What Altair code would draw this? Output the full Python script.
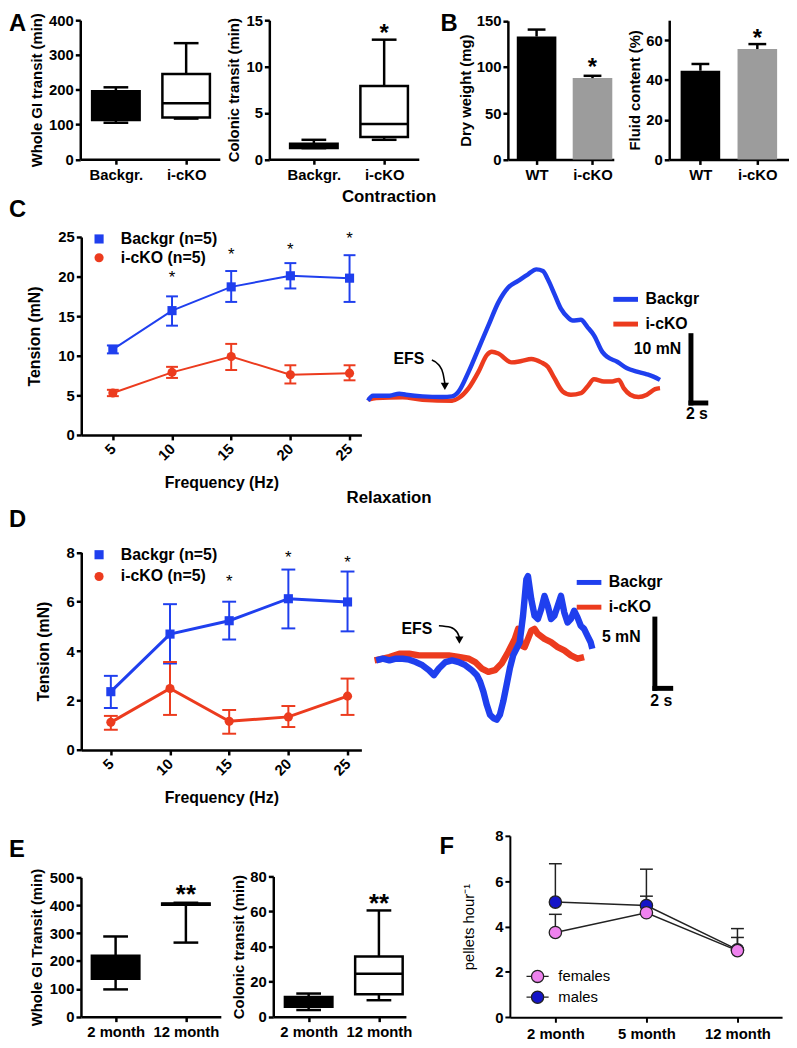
import altair as alt
import pandas as pd

W, H = 789, 1040


def X(x):
    return round(x - 8, 2)


def Y(y):
    return round(y - 8, 2)


FONT = "Liberation Sans"
BLUE = "#1f3fee"
RED = "#ec3b1e"
GRAY = "#9c9c9c"

# ======================= DATA =======================
# Panel A : box plots (min, q1, median, q3, max)
a_groups = ["Backgr.", "i-cKO"]
a_gi_min = [105, 117]
a_gi_q1 = [113, 120]
a_gi_med = [150, 161]
a_gi_q3 = [196, 245]
a_gi_max = [207, 334]
a_gi_fill = ["black", "white"]

a_col_min = [1.2, 2.1]
a_col_q1 = [1.22, 2.4]
a_col_med = [1.45, 3.8]
a_col_q3 = [1.67, 7.9]
a_col_max = [2.1, 12.9]
a_col_fill = ["black", "white"]
a_col_star = 13.6

# Panel B : bars (mean, top of error bar)
b_groups = ["WT", "i-cKO"]
b_dry_mean = [133.0, 88.0]
b_dry_top = [140.5, 90.5]
b_dry_star = 100
b_fluid_mean = [44.6, 55.5]
b_fluid_top = [48.0, 58.0]
b_fluid_star = 61
b_colors = ["black", GRAY]

# Panel C : contraction
freq = [5, 10, 15, 20, 25]
c_bg = [10.8, 15.7, 18.7, 20.1, 19.8]
c_bg_lo = [10.3, 13.8, 16.8, 18.5, 16.8]
c_bg_hi = [11.3, 17.5, 20.7, 21.7, 22.7]
c_ko = [5.3, 7.9, 9.9, 7.6, 7.8]
c_ko_lo = [4.9, 7.2, 8.2, 6.5, 6.9]
c_ko_hi = [5.7, 8.6, 11.5, 8.8, 8.8]
c_star_x = [10, 15, 20, 25]
c_star_y = [20.0, 22.9, 23.5, 24.9]

# Contraction traces (time s, tension mN)
ct_bg_t = [0, 0.67, 2.89, 4.22, 5.11, 7.33, 10.0, 11.33, 12.22, 13.56, 14.89, 16.22, 17.56,
           18.89, 20.22, 21.56, 22.67, 23.56, 24.22, 25.11, 26.0, 26.89, 27.56, 28.67, 29.56,
           30.44, 31.56, 32.22, 33.56, 34.89, 36.22, 37.56, 38.44, 39.33]
ct_bg_f = [0.34, 1.08, 1.08, 1.37, 1.23, 0.98, 0.88, 0.98, 1.72, 4.66, 8.09, 11.52, 14.95,
           17.16, 18.14, 19.12, 19.85, 19.61, 18.38, 16.18, 13.97, 12.75, 12.25, 12.35, 11.27,
           10.05, 7.6, 6.86, 6.13, 5.15, 4.66, 4.26, 3.92, 3.43]
ct_ko_t = [0, 1.11, 4.67, 7.33, 11.33, 12.22, 13.56, 14.89, 16.0, 16.67, 17.56, 19.33, 20.67,
           22.0, 23.33, 24.22, 25.11, 26.22, 27.33, 28.67, 29.56, 30.44, 31.78, 32.89, 33.78,
           34.44, 35.33, 36.44, 37.56, 38.67, 39.33]
ct_ko_f = [0.49, 0.74, 0.83, 0.49, 0.34, 0.74, 2.21, 4.66, 7.11, 7.6, 7.35, 6.03, 6.23,
           6.52, 6.03, 5.39, 3.68, 1.72, 1.23, 1.47, 2.45, 3.53, 3.19, 3.19, 3.43,
           2.21, 1.23, 0.88, 1.23, 2.06, 2.21]
ct_arrow_t = [8.6, 9.55, 10.1, 10.35]
ct_arrow_f = [6.4, 5.65, 4.4, 2.9]

# Panel D : relaxation
d_bg = [2.36, 4.69, 5.23, 6.12, 5.99]
d_bg_lo = [1.7, 3.5, 4.47, 4.92, 4.8]
d_bg_hi = [3.0, 5.9, 6.0, 7.3, 7.22]
d_ko = [1.12, 2.49, 1.16, 1.34, 2.18]
d_ko_lo = [0.82, 1.42, 0.66, 0.93, 1.42]
d_ko_hi = [1.38, 3.56, 1.62, 1.78, 2.89]
d_star_x = [15, 20, 25]
d_star_y = [6.82, 7.82, 7.62]

dt_bg_t = [0.21, 1.04, 1.875, 2.71, 3.54, 4.375, 5.21, 6.04, 6.875, 7.5, 8.125, 8.96, 9.79,
           10.625, 11.46, 12.29, 12.92, 13.33, 13.75, 14.17, 14.58, 15.0, 15.42, 15.83, 16.25,
           16.67, 17.08, 17.5, 17.92, 18.33, 18.75, 19.17, 19.375, 19.79, 20.21, 20.625, 21.04,
           21.46, 21.875, 22.29, 22.71, 23.125, 23.54, 23.96, 24.375, 24.79, 25.21, 25.625,
           26.04, 26.46, 26.875, 27.29, 27.5]
dt_bg_f = [2.02, 2.14, 2.02, 2.14, 2.14, 2.07, 1.90, 1.67, 1.31, 0.95, 1.43, 1.90, 2.02,
           1.90, 1.67, 1.31, 0.95, 0.48, -0.24, -1.19, -1.90, -2.14, -2.26, -1.90, -0.95,
           0.24, 1.43, 2.38, 2.86, 3.33, 5.24, 7.86, 8.10, 6.43, 5.24, 5.0, 5.71,
           6.67, 5.95, 5.0, 5.24, 5.95, 6.67, 5.48, 4.76, 5.0, 5.60, 5.12,
           4.52, 4.29, 3.81, 3.33, 2.86]
dt_ko_t = [0, 1.04, 1.875, 3.125, 4.375, 5.625, 6.875, 8.125, 9.375, 10.625, 11.875, 12.71,
           13.54, 14.375, 15.21, 16.04, 16.875, 17.71, 18.125, 18.54, 18.96, 19.375, 19.79,
           20.21, 20.625, 21.46, 22.29, 23.125, 23.96, 24.79, 25.625, 26.46]
dt_ko_f = [2.02, 2.14, 2.26, 2.5, 2.5, 2.38, 2.38, 2.38, 2.38, 2.26, 2.14, 1.90,
           1.43, 1.19, 1.31, 1.79, 2.62, 3.57, 4.29, 3.10, 2.98, 3.57, 4.17,
           4.29, 3.93, 3.57, 3.33, 2.98, 2.74, 2.38, 2.14, 2.26]
dt_arrow_t = [8.125, 9.59, 10.43, 10.71]
dt_arrow_f = [4.52, 4.41, 4.05, 3.69]

# Panel E : box plots
e_groups = ["2 month", "12 month"]
e_gi_min = [98, 266]
e_gi_q1 = [136, 402]
e_gi_med = [180, 405]
e_gi_q3 = [219, 406]
e_gi_max = [288, 409]
e_gi_star = 440
e_col_min = [3.8, 9.4]
e_col_q1 = [5.65, 12.8]
e_col_med = [8.1, 24.5]
e_col_q3 = [11.3, 34.3]
e_col_max = [13.2, 60.6]
e_col_star = 65
e_fill = ["black", "white"]

# Panel F : pellets
f_ages = ["2 month", "5 month", "12 month"]
f_fem = [3.74, 4.61, 2.94]
f_fem_hi = [4.54, 5.34, 3.52]
f_male = [5.08, 4.93, 2.98]
f_male_hi = [6.77, 6.53, 3.91]

# ======================= HELPERS =======================


def txt(text, x, y, size, weight="bold", align="center", baseline="middle"):
    return alt.Chart(pd.DataFrame({"t": [text]})).mark_text(
        font=FONT, fontSize=size, fontWeight=weight, align=align, baseline=baseline, color="black"
    ).encode(x=alt.value(X(x)), y=alt.value(Y(y)), text="t:N")


def lin(domain, r0, r1):
    return alt.Scale(domain=domain, range=[r0, r1], nice=False, zero=False)


def pnt(domain, r0, r1, pad, align):
    return alt.Scale(type="point", domain=domain, range=[r0, r1], padding=pad, align=align)


def left_axis(ax, values, title, pad=4, **kw):
    return alt.Axis(orient="left", offset=-X(ax), values=values, title=title,
                    titlePadding=pad, **kw)


def bottom_axis(ay, **kw):
    return alt.Axis(orient="bottom", offset=round(Y(ay) - H, 2), **kw)


def box_panel(groups, mn, q1, md, q3, mx, fills, xr, pad, align, ax, ay, ytop, ydom,
              yvals, ytitle, tpad, bw=48, cw=25):
    df = pd.DataFrame({"g": groups, "mn": mn, "q1": q1, "md": md, "q3": q3, "mx": mx,
                       "fill": fills})
    xs = pnt(groups, X(xr[0]), X(xr[1]), pad, align)
    ys = lin(ydom, Y(ay), Y(ytop))
    base = alt.Chart(df)
    xn = alt.X("g:N", scale=xs, axis=None)
    return [
        base.mark_rule(color="black", strokeWidth=2.5).encode(
            x=xn, y=alt.Y("mn:Q", scale=ys, axis=None), y2="mx:Q"),
        base.mark_tick(color="black", size=cw, thickness=2.5, opacity=1).encode(
            x=xn, y=alt.Y("mx:Q", scale=ys, axis=None)),
        base.mark_tick(color="black", size=cw, thickness=2.5, opacity=1).encode(
            x=xn, y=alt.Y("mn:Q", scale=ys, axis=None)),
        base.mark_bar(size=bw, stroke="black", strokeWidth=2.5).encode(
            x=alt.X("g:N", scale=xs,
                    axis=bottom_axis(ay, title=None, labelAngle=0, labelPadding=3)),
            y=alt.Y("q1:Q", scale=ys, axis=left_axis(ax, yvals, ytitle, tpad)),
            y2="q3:Q",
            fill=alt.Fill("fill:N", scale=None)),
        base.mark_tick(color="black", size=bw, thickness=2.5, opacity=1).encode(
            x=xn, y=alt.Y("md:Q", scale=ys, axis=None)),
    ], xs, ys


def star(xs, ys, xval, yval, xtype, size, text="*"):
    df = pd.DataFrame({"x": xval, "y": yval})
    return alt.Chart(df).mark_text(text=text, font=FONT, fontSize=size, fontWeight="bold",
                                   baseline="middle", dy=1, color="black").encode(
        x=alt.X("x:" + xtype, scale=xs, axis=None), y=alt.Y("y:Q", scale=ys, axis=None))


def bar_panel(groups, mean, top, colors, xr, pad, align, ax, ay, ytop, ydom, yvals, ytitle,
              bw=40, cw=18):
    df = pd.DataFrame({"g": groups, "m": mean, "e": top, "c": colors})
    xs = pnt(groups, X(xr[0]), X(xr[1]), pad, align)
    ys = lin(ydom, Y(ay), Y(ytop))
    base = alt.Chart(df)
    xn = alt.X("g:N", scale=xs, axis=None)
    return [
        base.mark_bar(size=bw).encode(
            x=alt.X("g:N", scale=xs,
                    axis=bottom_axis(ay, title=None, labelAngle=0, labelPadding=3)),
            y=alt.Y("m:Q", scale=ys, axis=left_axis(ax, yvals, ytitle, 3)),
            y2=alt.datum(0),
            fill=alt.Fill("c:N", scale=None)),
        base.mark_rule(color="black", strokeWidth=2.5).encode(
            x=xn, y=alt.Y("m:Q", scale=ys, axis=None), y2="e:Q"),
        base.mark_tick(color="black", size=cw, thickness=2.5, opacity=1).encode(
            x=xn, y=alt.Y("e:Q", scale=ys, axis=None)),
    ], xs, ys


def line_panel(bg, bglo, bghi, ko, kolo, kohi, sx, sy, xdom, xr, ydom, ytop, ax, ay, yvals,
               lw, legx, legy, rowpad, capw):
    lab_bg, lab_ko = "Backgr (n=5)", "i-cKO (n=5)"
    n = len(freq)
    df = pd.DataFrame({"f": freq + freq, "v": bg + ko, "lo": bglo + kolo, "hi": bghi + kohi,
                       "grp": [lab_bg] * n + [lab_ko] * n})
    xs = lin(xdom, X(xr[0]), X(xr[1]))
    ys = lin(ydom, Y(ay), Y(ytop))
    cs = alt.Scale(domain=[lab_bg, lab_ko], range=[BLUE, RED])
    ss = alt.Scale(domain=[lab_bg, lab_ko], range=["square", "circle"])
    base = alt.Chart(df)
    xn = alt.X("f:Q", scale=xs, axis=None)
    col = alt.Color("grp:N", scale=cs, legend=None)
    leg = alt.Legend(orient="none", legendX=X(legx), legendY=Y(legy), title=None,
                     labelFont=FONT, labelFontSize=16, labelFontWeight="bold",
                     labelColor="black", symbolSize=85, labelOffset=14, rowPadding=rowpad,
                     padding=0, symbolStrokeWidth=0)
    layers = [
        base.mark_line(strokeWidth=lw).encode(
            x=alt.X("f:Q", scale=xs,
                    axis=bottom_axis(ay, values=freq, title="Frequency (Hz)", labelAngle=315,
                                     labelAlign="right", labelBaseline="middle",
                                     labelPadding=6, titlePadding=12, titleFontSize=16)),
            y=alt.Y("v:Q", scale=ys,
                    axis=left_axis(ax, yvals, "Tension (mN)", 15, titleFontSize=16)),
            color=col),
        base.mark_rule(strokeWidth=2).encode(
            x=xn, y=alt.Y("lo:Q", scale=ys, axis=None), y2="hi:Q", color=col),
        base.mark_tick(orient="horizontal", size=capw, thickness=2, opacity=1).encode(
            x=xn, y=alt.Y("lo:Q", scale=ys, axis=None), color=col),
        base.mark_tick(orient="horizontal", size=capw, thickness=2, opacity=1).encode(
            x=xn, y=alt.Y("hi:Q", scale=ys, axis=None), color=col),
        base.mark_point(filled=True, size=85, opacity=1).encode(
            x=xn, y=alt.Y("v:Q", scale=ys, axis=None),
            color=alt.Color("grp:N", scale=cs, legend=leg),
            shape=alt.Shape("grp:N", scale=ss, legend=leg)),
    ]
    sdf = pd.DataFrame({"x": sx, "y": sy})
    layers.append(alt.Chart(sdf).mark_text(text="*", font=FONT, fontSize=17, color="black",
                                           baseline="middle", dy=1).encode(
        x=alt.X("x:Q", scale=xs, axis=None), y=alt.Y("y:Q", scale=ys, axis=None)))
    return layers


def trace_panel(bg_t, bg_f, ko_t, ko_f, tdom, x0, px_s, fdom, y0, px_f, lw, leg_x, leg_y,
                bar_t, bar_f, mn_lab, mn_t, mn_f, s_t, s_f, efs_t, efs_f, ar_t, ar_f, interp):
    xs = lin(tdom, X(x0), X(x0 + (tdom[1] - tdom[0]) * px_s))
    ys = lin(fdom, Y(y0), Y(y0 - (fdom[1] - fdom[0]) * px_f))
    df = pd.DataFrame({"t": ko_t + bg_t, "f": ko_f + bg_f,
                       "grp": ["i-cKO"] * len(ko_t) + ["Backgr"] * len(bg_t),
                       "o": list(range(len(ko_t))) + list(range(len(bg_t)))})
    cs = alt.Scale(domain=["Backgr", "i-cKO"], range=[BLUE, RED])
    leg = alt.Legend(orient="none", legendX=X(leg_x), legendY=Y(leg_y), title=None,
                     labelFont=FONT, labelFontSize=16, labelFontWeight="bold",
                     labelColor="black", symbolType="stroke", symbolStrokeWidth=5,
                     symbolSize=620, labelOffset=5, rowPadding=0, padding=0)
    out = [
        alt.Chart(df).mark_line(strokeWidth=lw, interpolate=interp, strokeJoin="round").encode(
            x=alt.X("t:Q", scale=xs, axis=None), y=alt.Y("f:Q", scale=ys, axis=None),
            color=alt.Color("grp:N", scale=cs, legend=leg,
                            sort=["i-cKO", "Backgr"]),
            order="o:Q"),
    ]
    bars = pd.DataFrame({"t": [bar_t, bar_t], "t2": [bar_t, bar_t + 2],
                         "f": [0, 0], "f2": [bar_f, 0]})
    out.append(alt.Chart(bars).mark_rule(color="black", strokeWidth=5, strokeCap="square").encode(
        x=alt.X("t:Q", scale=xs, axis=None), x2="t2:Q",
        y=alt.Y("f:Q", scale=ys, axis=None), y2="f2:Q"))
    for lab, tt, ff, al in [(mn_lab, mn_t, mn_f, "right"), ("2 s", s_t, s_f, "center"),
                            ("EFS", efs_t, efs_f, "center")]:
        out.append(alt.Chart(pd.DataFrame({"t": [tt], "f": [ff], "lab": [lab]})).mark_text(
            font=FONT, fontSize=16, fontWeight="bold", align=al, baseline="middle",
            color="black").encode(
            x=alt.X("t:Q", scale=xs, axis=None), y=alt.Y("f:Q", scale=ys, axis=None),
            text="lab:N"))
    adf = pd.DataFrame({"t": ar_t, "f": ar_f, "o": list(range(len(ar_t)))})
    out.append(alt.Chart(adf).mark_line(color="black", strokeWidth=1.6,
                                        interpolate="monotone").encode(
        x=alt.X("t:Q", scale=xs, axis=None), y=alt.Y("f:Q", scale=ys, axis=None), order="o:Q"))
    hdf = pd.DataFrame({"t": [ar_t[-1]], "f": [ar_f[-1]]})
    out.append(alt.Chart(hdf).mark_point(shape="triangle-down", filled=True, size=70,
                                         color="black", opacity=1, yOffset=3).encode(
        x=alt.X("t:Q", scale=xs, axis=None), y=alt.Y("f:Q", scale=ys, axis=None)))
    return out


layers = []

# ---------------- Panel A ----------------
lay, xs, ys = box_panel(a_groups, a_gi_min, a_gi_q1, a_gi_med, a_gi_q3, a_gi_max, a_gi_fill,
                        (81, 222), 0.493, 0.514, 81, 155.5, 15, [0, 400],
                        [0, 100, 200, 300, 400], "Whole GI transit (min)", 4)
layers += lay
lay, xs, ys = box_panel(a_groups, a_col_min, a_col_q1, a_col_med, a_col_q3, a_col_max,
                        a_col_fill, (272, 423), 0.563, 0.5625, 272, 155.5, 15, [0, 15],
                        [0, 5, 10, 15], "Colonic transit (min)", 4)
layers += lay
layers.append(star(xs, ys, ["i-cKO"], [a_col_star], "N", 24))

# ---------------- Panel B ----------------
lay, xs, ys = bar_panel(b_groups, b_dry_mean, b_dry_top, b_colors, (513, 620), 0.447, 0.574,
                        513, 155.7, 15.6, [0, 150], [0, 50, 100, 150], "Dry weight (mg)")
layers += lay
layers.append(star(xs, ys, ["i-cKO"], [b_dry_star], "N", 24))
lay, xs, ys = bar_panel(b_groups, b_fluid_mean, b_fluid_top, b_colors, (676, 797), 0.552, 0.496,
                        676, 155.7, 15, [0, 70], [0, 20, 40, 60], "Fluid content (%)")
layers += lay
layers.append(star(xs, ys, ["i-cKO"], [b_fluid_star], "N", 24))

# ---------------- Panel C ----------------
layers += line_panel(c_bg, c_bg_lo, c_bg_hi, c_ko, c_ko_lo, c_ko_hi, c_star_x, c_star_y,
                     [2.33, 26.0], (82, 365), [0, 25], 234, 82, 434, [0, 5, 10, 15, 20, 25],
                     2, 92, 228, 3, 12)
layers += trace_panel(ct_bg_t, ct_bg_f, ct_ko_t, ct_ko_f, [0, 46], 371.7, 7.5, [0, 20], 401.7,
                      6.8, 4.5, 617, 282, 43.5, 10, "10 mN", 42.2, 8.0, 44.3, -1.6, 5.5, 6.6,
                      ct_arrow_t, ct_arrow_f, "monotone")

# ---------------- Panel D ----------------
layers += line_panel(d_bg, d_bg_lo, d_bg_hi, d_ko, d_ko_lo, d_ko_hi, d_star_x, d_star_y,
                     [2.5, 26.17], (82, 365), [0, 8], 552.5, 82, 752.3, [0, 2, 4, 6, 8],
                     3, 92, 547, 6, 14)
layers += trace_panel(dt_bg_t, dt_bg_f, dt_ko_t, dt_ko_f, [0, 38], 378.3, 8, [0, 5], 690,
                      14, 6.5, 580, 568, 35.4, 5, "5 mN", 33.6, 3.69, 36.2, -0.95, 5.34, 4.29,
                      dt_arrow_t, dt_arrow_f, "linear")

# ---------------- Panel E ----------------
lay, xs, ys = box_panel(e_groups, e_gi_min, e_gi_q1, e_gi_med, e_gi_q3, e_gi_max, e_fill,
                        (81.7, 223), 0.495, 0.498, 81.7, 1021.7, 881, [0, 500],
                        [0, 100, 200, 300, 400, 500], "Whole GI Transit (min)", 5)
layers += lay
layers.append(star(xs, ys, ["12 month"], [e_gi_star], "N", 26, "**"))
lay, xs, ys = box_panel(e_groups, e_col_min, e_col_q1, e_col_med, e_col_q3, e_col_max, e_fill,
                        (276, 410), 0.444, 0.567, 276, 1021.7, 880, [0, 80],
                        [0, 20, 40, 60, 80], "Colonic transit (min)", 3)
layers += lay
layers.append(star(xs, ys, ["12 month"], [e_col_star], "N", 26, "**"))

# ---------------- Panel F ----------------
fdf = pd.DataFrame({"age": f_ages + f_ages, "v": f_male + f_fem, "hi": f_male_hi + f_fem_hi,
                    "sex": ["males"] * 3 + ["females"] * 3})
fxs = pnt(f_ages, X(515), X(790), 0.495, 0.505)
fys = lin([0, 8], Y(1022.3), Y(839))
fcs = alt.Scale(domain=["females", "males"], range=["#ee82ee", "#1414c8"])
fx_n = alt.X("age:N", scale=fxs, axis=None)
custom_sym = ("M-1,0H-0.55M0.55,0H1M0.55,0A0.55,0.55,0,1,1,-0.55,0"
              "A0.55,0.55,0,1,1,0.55,0Z")
fleg = alt.Legend(orient="none", legendX=X(531), legendY=Y(969), title=None, labelFont=FONT,
                  labelFontSize=15, labelFontWeight="normal", labelColor="black",
                  symbolType=custom_sym, symbolSize=500, symbolStrokeColor="#222222",
                  symbolStrokeWidth=1.3, labelOffset=9, rowPadding=0, padding=0)
layers += [
    alt.Chart(fdf).mark_line(color="#222222", strokeWidth=1.5).encode(
        x=alt.X("age:N", scale=fxs,
                axis=bottom_axis(1022.3, title=None, labelAngle=0, labelPadding=4,
                                 tickWidth=2, domainWidth=2)),
        y=alt.Y("v:Q", scale=fys,
                axis=left_axis(515, [0, 2, 4, 6, 8], "pellets hour\u207b\u00b9", 18,
                               titleFontWeight="normal", titleFontSize=15, tickWidth=2,
                               domainWidth=2, titleColor="black")),
        detail="sex:N"),
    alt.Chart(fdf).mark_rule(color="#222222", strokeWidth=1.5).encode(
        x=fx_n, y=alt.Y("v:Q", scale=fys, axis=None), y2="hi:Q"),
    alt.Chart(fdf).mark_tick(color="#222222", size=13, thickness=1.5, opacity=1).encode(
        x=fx_n, y=alt.Y("hi:Q", scale=fys, axis=None)),
    alt.Chart(fdf).mark_point(filled=True, shape="circle", size=155, stroke="#222222",
                              strokeWidth=1.3, opacity=1).encode(
        x=fx_n, y=alt.Y("v:Q", scale=fys, axis=None),
        fill=alt.Fill("sex:N", scale=fcs, legend=fleg)),
]

# ---------------- Letters & titles ----------------
layers += [
    txt("A", 9, 19, 24, align="left"), txt("B", 445, 19, 24, align="left"),
    txt("C", 9, 207, 24, align="left"), txt("D", 9, 520, 24, align="left"),
    txt("E", 9, 853, 24, align="left"), txt("F", 444, 850, 24, align="left"),
    txt("Contraction", 393, 194, 17), txt("Relaxation", 393, 498, 17),
]

chart = alt.layer(*layers).properties(
    width=W, height=H, padding=0, autosize=alt.AutoSizeParams(type="none")
).resolve_scale(
    x="independent", y="independent", color="independent", shape="independent",
    fill="independent"
).resolve_axis(
    x="independent", y="independent"
).resolve_legend(
    color="independent", shape="independent", fill="independent"
).configure_view(stroke=None).configure_axis(
    grid=False, domainColor="black", domainWidth=2.5, tickColor="black", tickWidth=2.5,
    tickSize=5, labelFont=FONT, labelFontSize=15, labelFontWeight="bold", labelColor="black",
    titleFont=FONT, titleFontSize=15, titleFontWeight="bold", titleColor="black",
    labelPadding=2, labelOverlap=False, labelFlush=False
)

chart.save("out.html", embed_options={"renderer": "svg", "actions": False})
